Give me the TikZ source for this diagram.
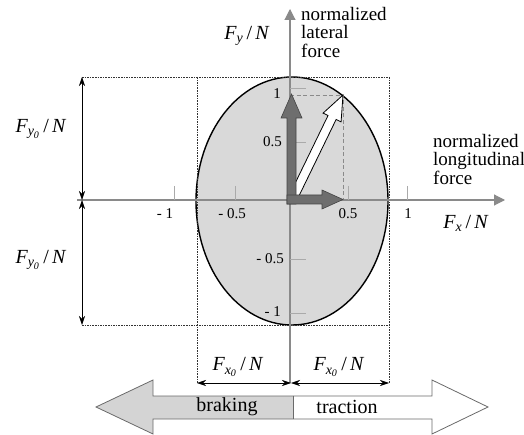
\documentclass[tikz,border=0pt]{standalone}
\usepackage{amsmath}
\usepackage{fontspec}
\setmainfont{Liberation Serif}
\usetikzlibrary{arrows.meta,calc,shapes.geometric}
\definecolor{ellfill}{HTML}{D9D9D9}
\definecolor{axisgray}{HTML}{8A8A8A}
\definecolor{tickgray}{HTML}{AAAAAA}
\definecolor{vecfill}{HTML}{6E6E6E}
\definecolor{vecdraw}{HTML}{444444}
\definecolor{brakefill}{HTML}{D4D4D4}
\definecolor{bigdraw}{HTML}{6A6A6A}
\newcommand\lblF[1]{$\textit{F}_{\textit{#1}}$\,/\,\textit{N}}
\newcommand\lblFz[1]{$\textit{F}_{\textit{#1}_{\textit{0}}}$\,/\,\textit{N}}
\begin{document}
\begin{tikzpicture}[x=1pt,y=-1pt,
  axisline/.style={draw=axisgray, line width=1.1pt},
  axistip/.style={-{Triangle[length=11pt,width=11pt]}},
  tickline/.style={draw=tickgray, line width=0.8pt},
  boxline/.style={draw=black!80, line width=0.6pt, dash pattern=on 1.6pt off 1pt},
  projline/.style={draw=axisgray, line width=0.8pt, dash pattern=on 4pt off 2.5pt},
  dimline/.style={draw=black, line width=0.6pt, {Stealth[length=9pt,width=6pt]}-{Stealth[length=9pt,width=6pt]}},
  vecarrow/.style={fill=vecfill, draw=vecdraw, line width=0.6pt, line join=miter},
  resarrow/.style={fill=white, draw=black, line width=0.8pt, line join=miter},
  ticklbl/.style={font=\fontsize{15}{17}\selectfont, inner sep=0pt},
  txt/.style={font=\fontsize{19}{18.5}\selectfont, inner sep=0pt, align=left},
  mathlbl/.style={font=\fontsize{20}{22}\selectfont, inner sep=0pt},
  biglbl/.style={font=\fontsize{20}{22}\selectfont, inner sep=0pt}
]
\useasboundingbox (0,0) rectangle (524,435);

% ellipse
\node[draw=black, line width=1.4pt, fill=ellfill, ellipse, minimum width=192pt, minimum height=248pt, inner sep=0pt] (ell) at (292,201) {};

% dotted box
\coordinate (bTL) at (82,77);
\coordinate (bTR) at (389,77);
\coordinate (bBL) at (82,325);
\coordinate (bBR) at (389,325);
\coordinate (iT) at (197,77);
\coordinate (iB) at (197,383);
\coordinate (rB) at (389,383);
\draw[boxline] (bTL) -- (bTR);
\draw[boxline] (bBL) -- (bBR);
\draw[boxline] (iT) -- (iB);
\draw[boxline] (bTR) -- (rB);

% axes
\coordinate (O) at (290,200);
\coordinate (xL) at (77,200);
\coordinate (xR) at (505,200);
\coordinate (yB) at (290,383);
\coordinate (yT) at (290,9);
\draw[axisline, axistip] (xL) -- (xR);
\draw[axisline, axistip] (yB) -- (yT);

% ticks
\foreach \tx in {174,235,348,407} \draw[tickline] (\tx,186) -- (\tx,200);
\foreach \ty in {88,142,259,313} \draw[tickline] (290,\ty) -- (306,\ty);

% tick labels
\node[ticklbl] (tx1) at (165,214) {- 1};
\node[ticklbl] (tx2) at (232,214) {- 0.5};
\node[ticklbl] (tx3) at (348,214) {0.5};
\node[ticklbl] (tx4) at (408,214) {1};
\node[ticklbl, anchor=east] (ty1) at (281,94) {1};
\node[ticklbl, anchor=east] (ty2) at (282,142) {0.5};
\node[ticklbl, anchor=east] (ty3) at (284,259) {- 0.5};
\node[ticklbl, anchor=east] (ty4) at (281,312) {- 1};

% projection dashes
\coordinate (T) at (343,95);
\coordinate (Ty) at (290,95);
\coordinate (Tx) at (343,200);
\draw[projline] (Ty) -- (T) -- (Tx);

% resultant white arrow
\coordinate (S) at (292,200);
\coordinate (B) at ($(T)!25pt!(S)$);
\filldraw[resarrow]
  ($(S)!4.5pt!90:(T)$) -- ($(B)!4.5pt!-90:(S)$) -- ($(B)!10pt!-90:(S)$) -- (T)
  -- ($(B)!10pt!90:(S)$) -- ($(B)!4.5pt!90:(S)$) -- ($(S)!4.5pt!-90:(T)$) -- cycle;

% dark component arrows
\filldraw[vecarrow] (287,204) -- (287,118) -- (281,118) -- (291.5,94) -- (302,118) -- (296,118) -- (296,204) -- cycle;
\filldraw[vecarrow] (287,195) -- (322,195) -- (322,190) -- (343,199.5) -- (322,209) -- (322,204) -- (287,204) -- cycle;

% dimension arrows
\coordinate (dT) at (82,77);
\coordinate (dM) at (82,200);
\coordinate (dB) at (82,325);
\draw[dimline] (dM) -- (dT);
\draw[dimline] (dM) -- (dB);
\coordinate (hL) at (197,383);
\coordinate (hM) at (291,383);
\coordinate (hR) at (389,383);
\draw[dimline] (hL) -- (hM);
\draw[dimline] (hM) -- (hR);

% labels
\node[mathlbl] (fy) at (247,36) {\lblF{y}};
\node[mathlbl] (fx) at (466,223) {\lblF{x}};
\node[mathlbl] (fy0a) at (41,129) {\lblFz{y}};
\node[mathlbl] (fy0b) at (41,260) {\lblFz{y}};
\node[mathlbl] (fx0a) at (238,367) {\lblFz{x}};
\node[mathlbl] (fx0b) at (339,367) {\lblFz{x}};
\node[txt, anchor=north west] (lat) at (301,7) {normalized\\lateral\\force};
\node[txt, anchor=north west] (lon) at (433,134) {normalized\\longitudinal\\force};

% big double arrow
\coordinate (mT) at (293,396);
\coordinate (mB) at (293,419);
\filldraw[fill=brakefill, draw=bigdraw, line width=0.8pt, line join=miter]
  (mT) -- (153,396) -- (153,380) -- (96,407) -- (153,434) -- (153,419) -- (mB);
\filldraw[fill=white, draw=bigdraw, line width=0.8pt, line join=miter]
  (mT) -- (432,396) -- (432,380) -- (488,407) -- (432,434) -- (432,419) -- (mB);
\draw[draw=bigdraw, line width=0.8pt] (mT) -- (mB);
\node[biglbl] (brk) at (227,407) {braking};
\node[biglbl] (trc) at (347,407) {traction};
\end{tikzpicture}
\end{document}
